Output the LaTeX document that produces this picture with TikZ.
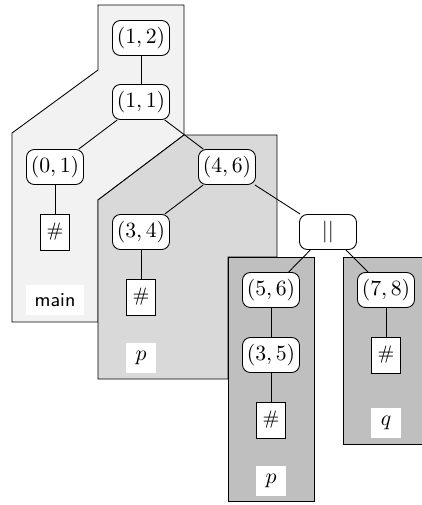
\documentclass[tikz,border=0pt]{standalone}
\begin{document}
\begin{tikzpicture}[x=0.46pt,y=-0.46pt,
  pair/.style={draw, fill=white, rounded corners=3.6pt, inner sep=1pt,
    minimum width=26.2pt, minimum height=16.1pt},
  hashbox/.style={draw, fill=white, inner sep=0pt, font=\small,
    minimum width=13pt, minimum height=16.6pt},
  tag/.style={fill=white, inner sep=0pt, minimum width=13.4pt, minimum height=13.6pt},
  region/.style={draw, line join=miter},
  edge/.style={draw}]
\clip (0,0) rectangle (422,505);
\useasboundingbox (0,0) rectangle (422,505);

% scopes
\path[region, fill=gray!10] (12,133) -- (98,70) -- (98,5) -- (184,5) -- (184,135)
  -- (98,200) -- (98,322) -- (12,322) -- cycle;
\path[region, fill=gray!30] (98,200) -- (184,135) -- (277,135) -- (277,257)
  -- (228,257) -- (228,379) -- (98,379) -- cycle;
\path[region, fill=gray!50] (228,257) rectangle (314,501);
\path[region, fill=gray!50] (343,257) rectangle (429,444);

% scope names
\node[tag, minimum width=26.7pt, font=\small\sffamily] (lmain) at (55,300) {main};
\node[tag] (lp1) at (141,358) {$p$};
\node[tag] (lp2) at (271,481) {$p$};
\node[tag] (lq) at (386,423) {$q$};

% tree
\node[pair] (n12) at (141,38) {$(1,2)$};
\node[pair] (n11) at (141,102) {$(1,1)$};
\node[pair] (n01) at (55,167) {$(0,1)$};
\node[hashbox] (h1) at (55,232) {$\#$};
\node[pair] (n46) at (227,167) {$(4,6)$};
\node[pair] (n34) at (141,232) {$(3,4)$};
\node[hashbox] (h2) at (141,297) {$\#$};
\node[pair] (npar) at (328,232) {$||$};
\node[pair] (n56) at (271,290) {$(5,6)$};
\node[pair] (n35) at (271,355) {$(3,5)$};
\node[hashbox] (h3) at (271,420) {$\#$};
\node[pair] (n78) at (386,290) {$(7,8)$};
\node[hashbox] (h4) at (386,355) {$\#$};

\path[edge] (n12) -- (n11);
\path[edge] (n11) -- (n01);
\path[edge] (n01) -- (h1);
\path[edge] (n11) -- (n46);
\path[edge] (n46) -- (n34);
\path[edge] (n34) -- (h2);
\path[edge] (n46) -- (npar);
\path[edge] (npar) -- (n56);
\path[edge] (n56) -- (n35);
\path[edge] (n35) -- (h3);
\path[edge] (npar) -- (n78);
\path[edge] (n78) -- (h4);
\end{tikzpicture}
\end{document}
